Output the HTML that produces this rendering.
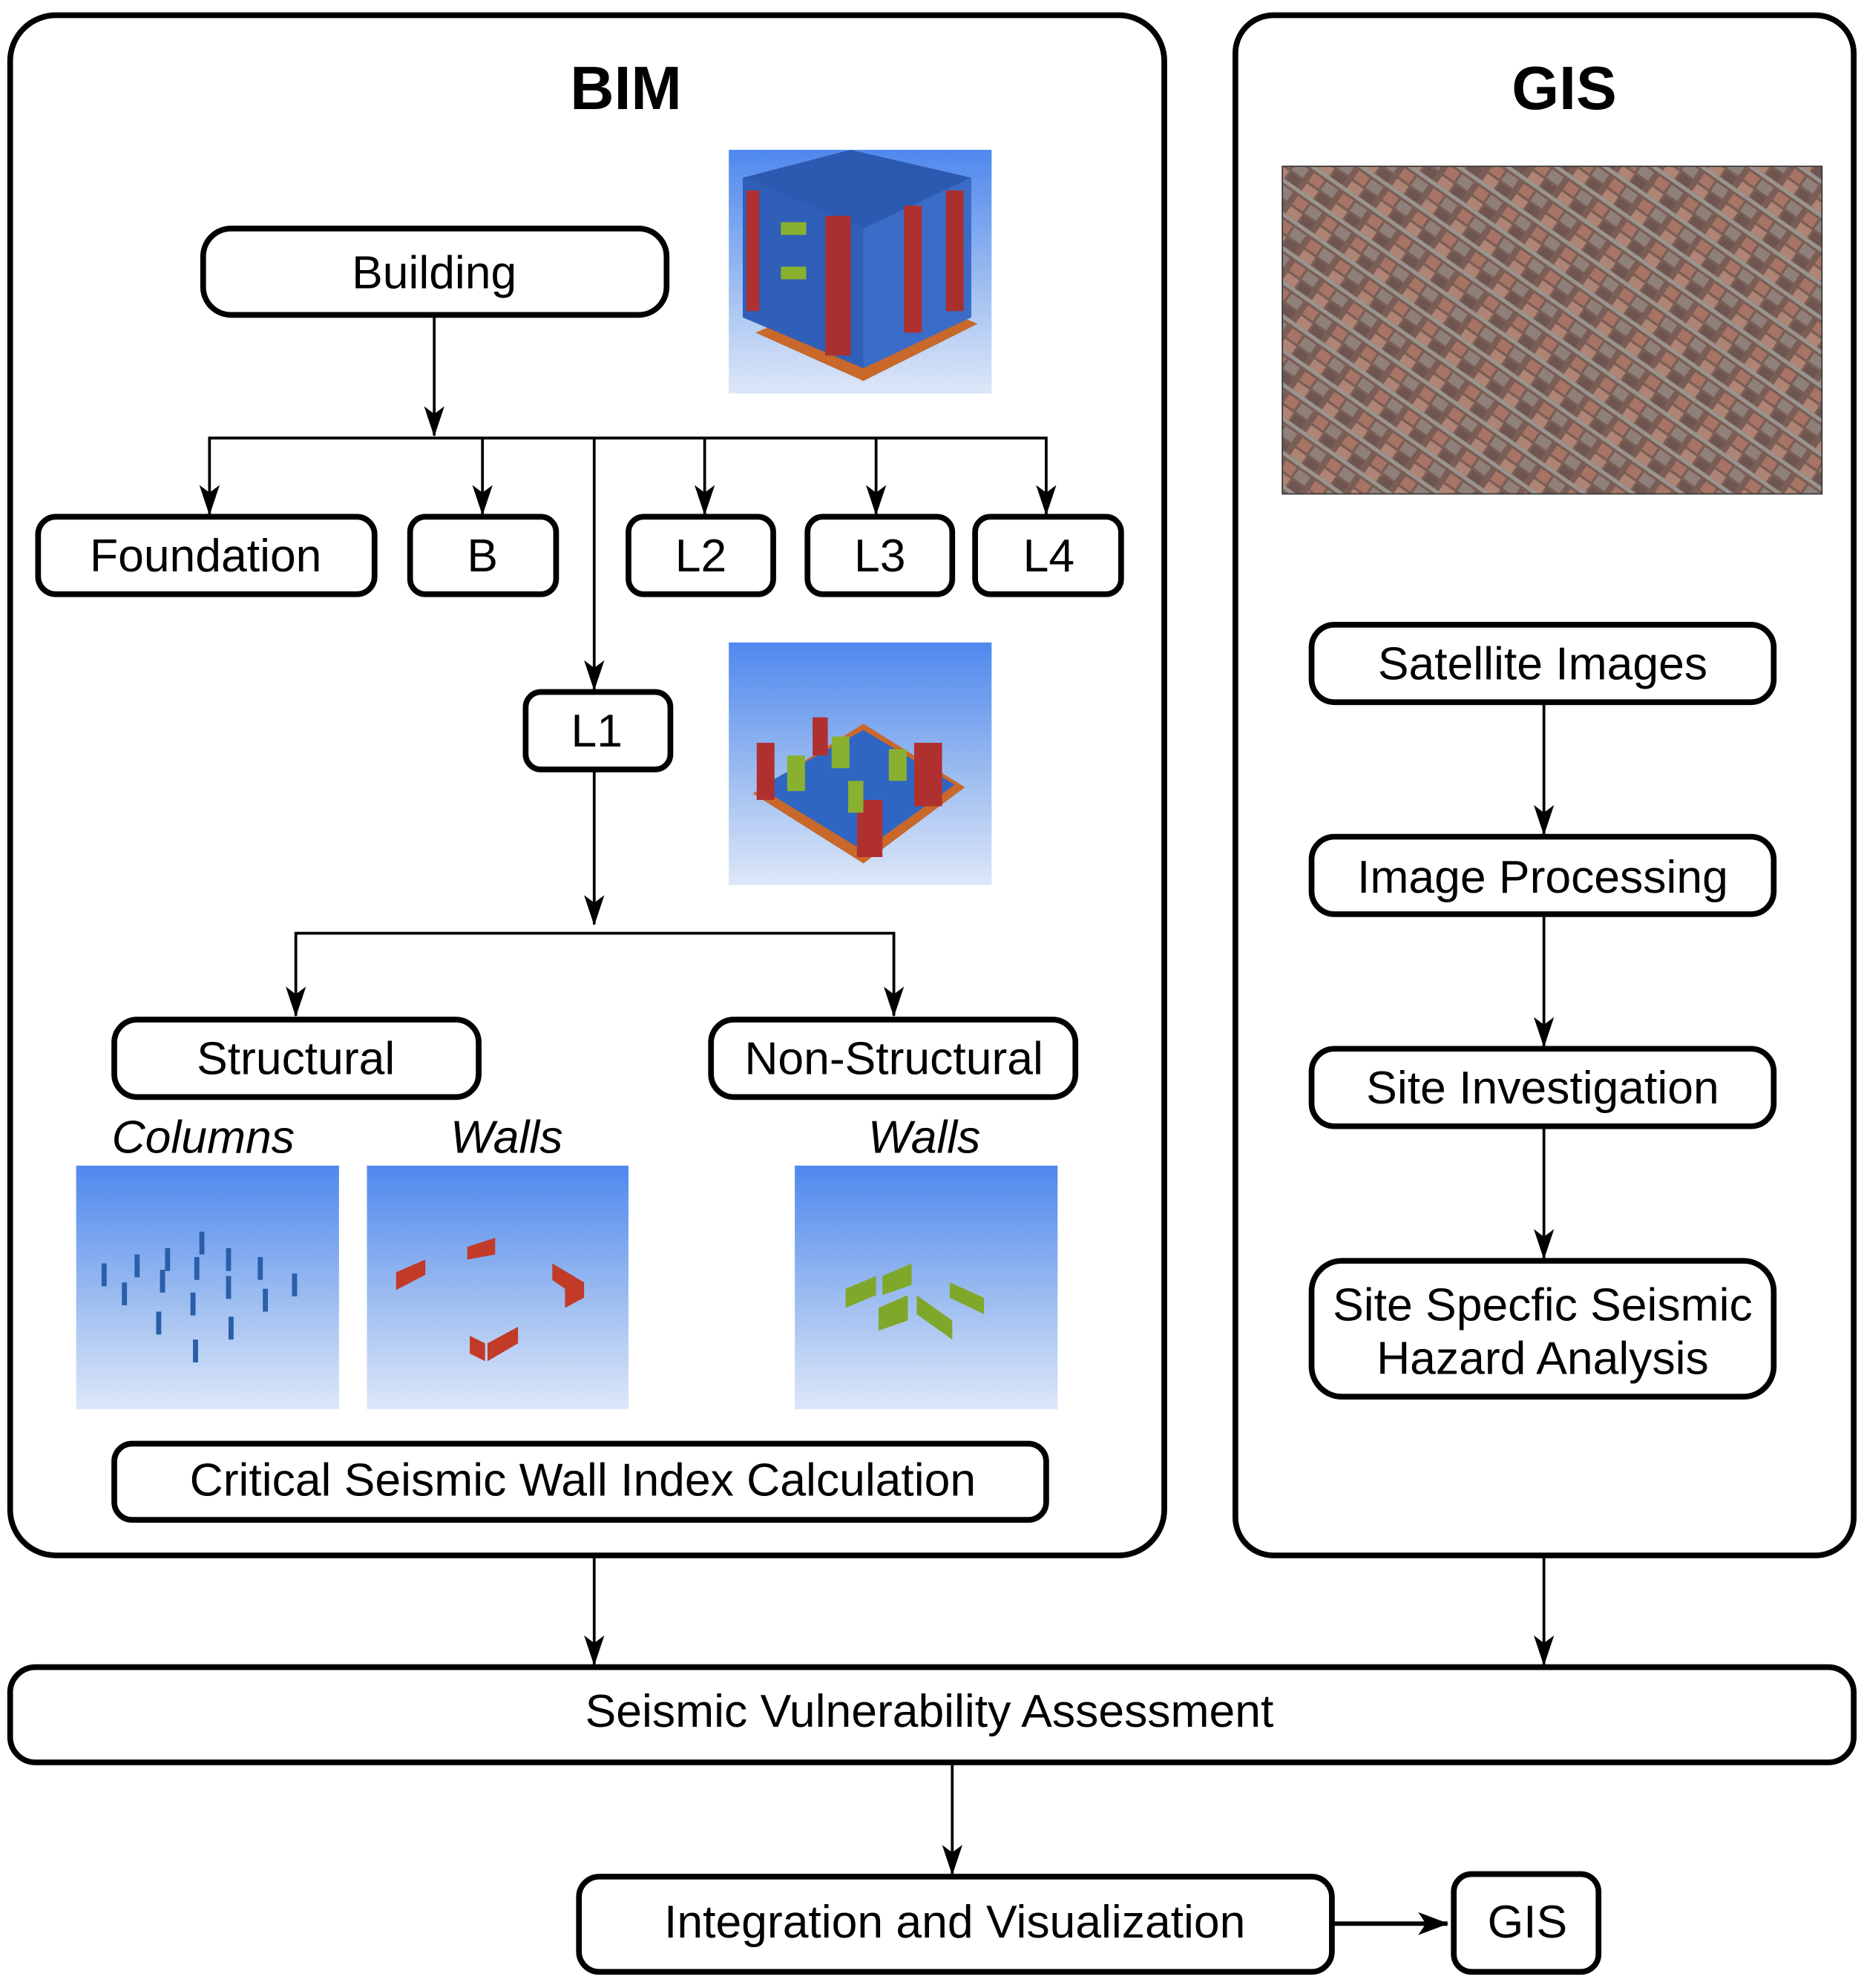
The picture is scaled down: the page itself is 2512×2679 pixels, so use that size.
<!DOCTYPE html>
<html><head><meta charset="utf-8"><style>
html,body{margin:0;padding:0;background:#fff;}
svg{display:block;}
text{font-family:"Liberation Sans",sans-serif;fill:#000;}
</style></head><body>
<svg width="2512" height="2679" viewBox="0 0 1468.1 1565.7" xmlns="http://www.w3.org/2000/svg">
<defs>
<marker id="a" markerWidth="24" markerHeight="16" refX="23" refY="8" orient="auto-start-reverse" markerUnits="userSpaceOnUse" viewBox="0 0 24 16">
<path d="M0,0 L24,8 L0,16 L6,8 Z" fill="#000"/>
</marker>
<marker id="ar" markerWidth="24" markerHeight="18" refX="23" refY="9" orient="auto" markerUnits="userSpaceOnUse" viewBox="0 0 24 18">
<path d="M0,0 L24,9 L0,18 L6,9 Z" fill="#000"/>
</marker>
<linearGradient id="sky" x1="0" y1="0" x2="0" y2="1">
<stop offset="0" stop-color="#4f88ee"/><stop offset="0.55" stop-color="#9dbdf0"/><stop offset="1" stop-color="#dde7f8"/>
</linearGradient>
<pattern id="city" width="28" height="22" patternUnits="userSpaceOnUse" patternTransform="rotate(35)">
<rect width="28" height="22" fill="#7a5e55"/>
<rect x="2" y="2" width="10" height="8" fill="#a87466"/>
<rect x="14" y="2" width="11" height="8" fill="#8f807a"/>
<rect x="2" y="12" width="11" height="7" fill="#b08474"/>
<rect x="15" y="12" width="10" height="7" fill="#6e5550"/>
<rect x="0" y="19" width="28" height="3" fill="#9a948e"/>
</pattern>
</defs>

<rect x="8" y="12" width="909" height="1213" rx="36" fill="none" stroke="#000" stroke-width="4.5"/>
<rect x="973" y="12" width="487" height="1213" rx="30" fill="none" stroke="#000" stroke-width="4.5"/>
<text x="493" y="86" font-size="48" font-weight="bold" text-anchor="middle">BIM</text>
<text x="1232" y="86" font-size="48" font-weight="bold" text-anchor="middle">GIS</text>

<rect x="574" y="118" width="207" height="192" fill="url(#sky)"/>
<polygon points="595,262 680,300 770,255 690,222" fill="#c8682a"/>
<polygon points="585,140 680,180 680,290 585,250" fill="#2f5fb8"/>
<polygon points="680,180 765,140 765,250 680,290" fill="#3a6cc8"/>
<polygon points="585,140 670,118 765,140 680,180" fill="#2c5ab0"/>
<rect x="588" y="150" width="10" height="95" fill="#b03030"/>
<rect x="650" y="170" width="20" height="110" fill="#a83030"/>
<rect x="712" y="162" width="14" height="100" fill="#b03030"/>
<rect x="745" y="150" width="14" height="95" fill="#a83030"/>
<rect x="615" y="175" width="20" height="10" fill="#8ab030"/>
<rect x="615" y="210" width="20" height="10" fill="#8ab030"/>

<rect x="574" y="506" width="207" height="191" fill="url(#sky)"/>
<polygon points="593,625 680,680 760,620 680,570" fill="#c8682a"/>
<polygon points="598,620 680,670 752,618 680,575" fill="#2f66c4"/>
<rect x="596" y="585" width="14" height="45" fill="#b03030"/>
<rect x="720" y="585" width="22" height="50" fill="#b03030"/>
<rect x="675" y="630" width="20" height="45" fill="#b03030"/>
<rect x="640" y="565" width="12" height="30" fill="#b03030"/>
<rect x="620" y="595" width="14" height="28" fill="#8ab030"/>
<rect x="655" y="580" width="14" height="25" fill="#8ab030"/>
<rect x="700" y="590" width="14" height="25" fill="#8ab030"/>
<rect x="668" y="615" width="12" height="25" fill="#8ab030"/>

<rect x="60" y="918" width="207" height="192" fill="url(#sky)"/>
<g fill="#2a5ea8">
<rect x="80" y="995" width="4" height="18"/><rect x="106" y="988" width="4" height="18"/><rect x="130" y="983" width="4" height="18"/><rect x="157" y="970" width="4" height="18"/>
<rect x="96" y="1010" width="4" height="18"/><rect x="126" y="1000" width="4" height="18"/><rect x="153" y="990" width="4" height="18"/><rect x="178" y="983" width="4" height="18"/><rect x="203" y="990" width="4" height="18"/>
<rect x="123" y="1033" width="4" height="18"/><rect x="150" y="1018" width="4" height="18"/><rect x="178" y="1005" width="4" height="18"/><rect x="230" y="1003" width="4" height="18"/>
<rect x="180" y="1037" width="4" height="18"/><rect x="152" y="1055" width="4" height="18"/><rect x="207" y="1015" width="4" height="18"/>
</g>
<rect x="289" y="918" width="206" height="192" fill="url(#sky)"/>
<g fill="#c23a28">
<polygon points="312,1002 335,992 335,1004 312,1016"/><polygon points="368,982 390,975 390,988 368,992"/>
<polygon points="435,995 460,1010 460,1022 445,1030 445,1015 435,1008"/>
<polygon points="370,1052 382,1058 382,1072 370,1066"/><polygon points="384,1058 408,1045 408,1058 384,1072"/>
</g>
<rect x="626" y="918" width="207" height="192" fill="url(#sky)"/>
<g fill="#7fa82a">
<polygon points="666,1015 690,1005 690,1020 666,1030"/><polygon points="695,1005 718,995 718,1012 695,1020"/>
<polygon points="692,1030 715,1020 715,1040 692,1048"/><polygon points="722,1020 750,1040 750,1055 722,1035"/>
<polygon points="748,1010 775,1022 775,1035 748,1022"/>
</g>

<rect x="1010" y="131" width="425" height="258" fill="url(#city)"/>
<rect x="1010" y="131" width="425" height="258" fill="none" stroke="#333" stroke-width="1"/>

<g stroke="#000" stroke-width="2.2" fill="none">
<line x1="342" y1="250" x2="342" y2="343" marker-end="url(#a)"/>
<polyline points="165,405 165,345 824,345 824,405" marker-end="url(#a)" marker-start="url(#a)"/>
<line x1="380" y1="345" x2="380" y2="405" marker-end="url(#a)"/>
<line x1="555" y1="345" x2="555" y2="405" marker-end="url(#a)"/>
<line x1="690" y1="345" x2="690" y2="405" marker-end="url(#a)"/>
<line x1="468" y1="345" x2="468" y2="543" marker-end="url(#a)"/>
<line x1="468" y1="607" x2="468" y2="728" marker-end="url(#a)"/>
<polyline points="233,800 233,735 704,735 704,800" marker-end="url(#a)" marker-start="url(#a)"/>
<line x1="1216" y1="554" x2="1216" y2="657" marker-end="url(#a)"/>
<line x1="1216" y1="721" x2="1216" y2="824" marker-end="url(#a)"/>
<line x1="1216" y1="888" x2="1216" y2="991" marker-end="url(#a)"/>
<line x1="468" y1="1227" x2="468" y2="1311" marker-end="url(#a)"/>
<line x1="1216" y1="1227" x2="1216" y2="1311" marker-end="url(#a)"/>
<line x1="750" y1="1389" x2="750" y2="1476" marker-end="url(#a)"/>
</g>
<line x1="1050" y1="1515" x2="1140" y2="1515" stroke="#000" stroke-width="3.5" marker-end="url(#ar)"/>

<g fill="#fff" stroke="#000" stroke-width="4.5">
<rect x="160" y="180" width="365" height="68" rx="22"/>
<rect x="30" y="407" width="265" height="61" rx="14"/>
<rect x="323" y="407" width="115" height="61" rx="12"/>
<rect x="495" y="407" width="114" height="61" rx="12"/>
<rect x="636" y="407" width="114" height="61" rx="12"/>
<rect x="768" y="407" width="115" height="61" rx="12"/>
<rect x="414" y="545" width="114" height="61" rx="12"/>
<rect x="90" y="803" width="287" height="61" rx="18"/>
<rect x="560" y="803" width="287" height="61" rx="18"/>
<rect x="90" y="1137" width="734" height="60" rx="14"/>
<rect x="1033" y="492" width="364" height="61" rx="18"/>
<rect x="1033" y="659" width="364" height="61" rx="18"/>
<rect x="1033" y="826" width="364" height="61" rx="18"/>
<rect x="1033" y="993" width="364" height="107" rx="24"/>
<rect x="8" y="1313" width="1452" height="75" rx="20"/>
<rect x="456" y="1478" width="593" height="75" rx="16"/>
<rect x="1145" y="1476" width="114" height="77" rx="14"/>
</g>

<g font-size="36.5" text-anchor="middle">
<text x="342" y="227">Building</text>
<text x="162" y="450">Foundation</text>
<text x="380" y="450">B</text>
<text x="552" y="450">L2</text>
<text x="693" y="450">L3</text>
<text x="826" y="450">L4</text>
<text x="470" y="588">L1</text>
<text x="233" y="846">Structural</text>
<text x="704" y="846">Non-Structural</text>
<text x="459" y="1178">Critical Seismic Wall Index Calculation</text>
<text x="1215" y="535">Satellite Images</text>
<text x="1215" y="703">Image Processing</text>
<text x="1215" y="869">Site Investigation</text>
<text x="1215" y="1040">Site Specfic Seismic</text>
<text x="1215" y="1082">Hazard Analysis</text>
<text x="732" y="1360">Seismic Vulnerability Assessment</text>
<text x="752" y="1526">Integration and Visualization</text>
<text x="1203" y="1526">GIS</text>
<g font-style="italic">
<text x="160" y="908">Columns</text>
<text x="399" y="908">Walls</text>
<text x="728" y="908">Walls</text>
</g>
</g>
</svg>
</body></html>
